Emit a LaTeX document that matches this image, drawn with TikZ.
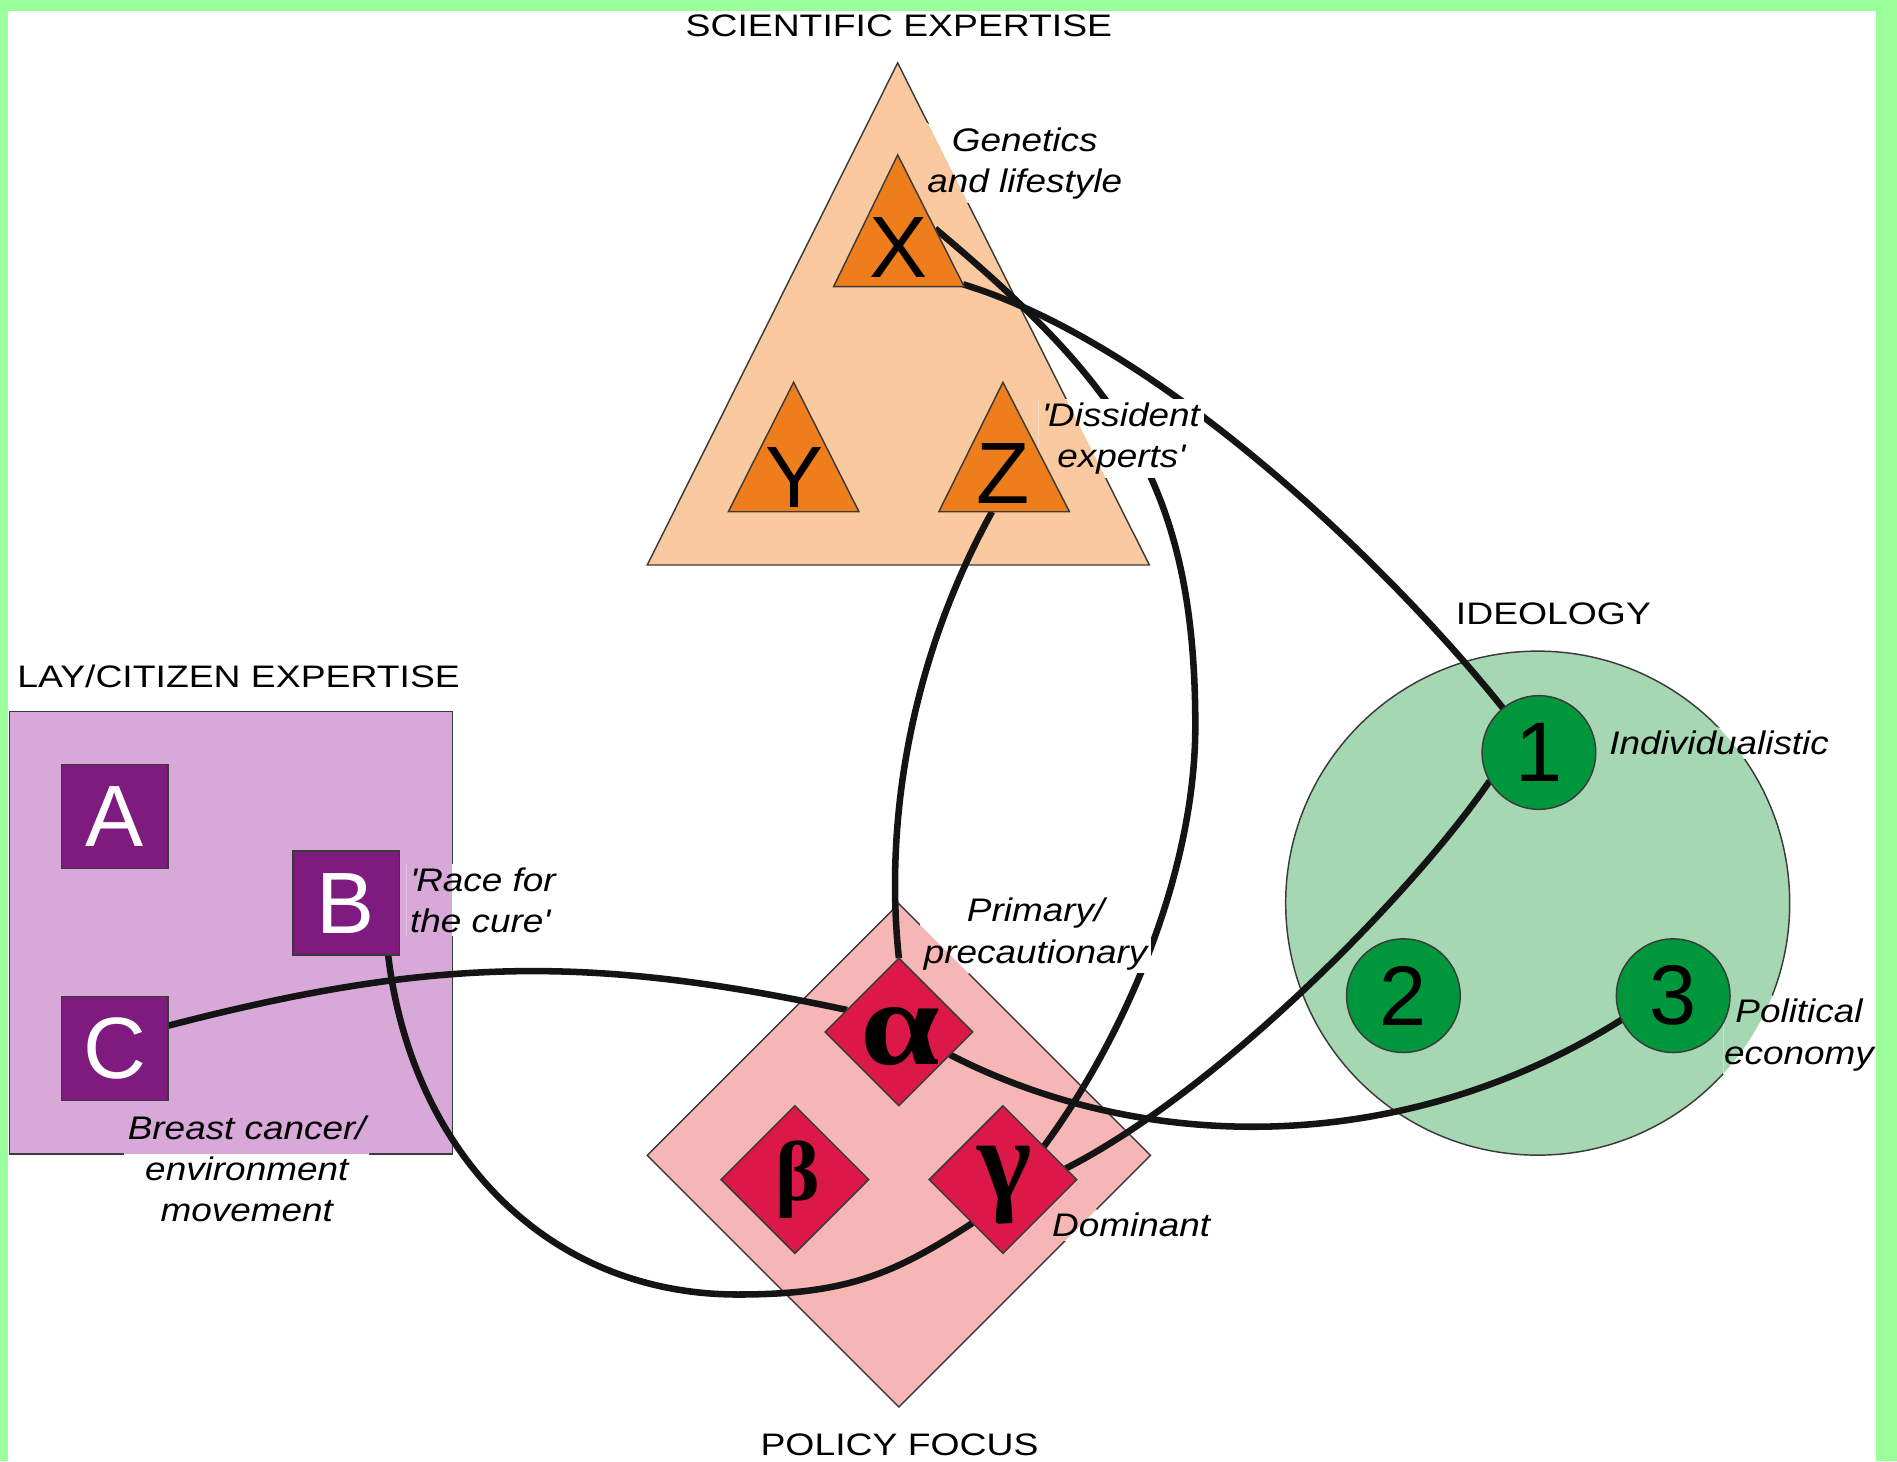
\documentclass[tikz,border=0pt]{standalone}
\usepackage{fontspec}
\setmainfont{Liberation Sans}
\newfontfamily\titlefont[FakeStretch=1.2]{Liberation Sans}
\newfontfamily\lblfont[FakeStretch=1.13]{Liberation Sans}
\newfontfamily\greekfont{Liberation Serif}
\newfontfamily\greekwide[FakeStretch=1.18]{Liberation Serif}
\usetikzlibrary{shapes.geometric}
\pgfdeclarelayer{bgl}\pgfdeclarelayer{curvel}\pgfdeclarelayer{labell}
\pgfsetlayers{bgl,curvel,labell,main}
\definecolor{frameg}{HTML}{99FF99}
\definecolor{peach}{HTML}{FAC9A0}
\definecolor{orng}{HTML}{EE7D1C}
\definecolor{lilac}{HTML}{D8A8D8}
\definecolor{plum}{HTML}{7F1A7F}
\definecolor{pinkd}{HTML}{F7B6B6}
\definecolor{crim}{HTML}{DC1848}
\definecolor{mint}{HTML}{A5D7B3}
\definecolor{dgreen}{HTML}{00963C}
\definecolor{edgec}{HTML}{3A3A3A}
\definecolor{curvec}{HTML}{141414}
\tikzset{
  thinedge/.style={draw=edgec, line width=0.6pt},
  bigbox/.style={rectangle, fill=lilac, thinedge, minimum width=183pt, minimum height=183pt, inner sep=0pt, outer sep=0pt},
  bigdia/.style={diamond, fill=pinkd, thinedge, minimum width=208pt, minimum height=208pt, inner sep=0pt, outer sep=0pt},
  bigcirc/.style={circle, fill=mint, thinedge, minimum size=208.3pt, inner sep=0pt, outer sep=0pt},
  sq/.style={rectangle, fill=plum, thinedge, minimum width=44pt, minimum height=43pt, inner sep=0pt, outer sep=0pt, text=white, font=\fontsize{36}{40}\selectfont},
  rd/.style={diamond, fill=crim, thinedge, minimum width=61pt, minimum height=61pt, inner sep=0pt, outer sep=0pt},
  gcirc/.style={circle, fill=dgreen, thinedge, minimum size=47pt, inner sep=0pt, outer sep=0pt, font=\fontsize{35}{40}\selectfont},
  tri/.style={fill=orng, thinedge},
  trilet/.style={inner sep=0pt, font=\fontsize{36}{40}\selectfont},
  greek/.style={inner sep=0pt},
  conn/.style={draw=curvec, line width=2.7pt},
  lbl/.style={fill=white, inner sep=1.5pt, align=center, font=\lblfont\itshape\fontsize{13.5}{17}\selectfont},
  ttl/.style={inner sep=0pt, font=\titlefont\fontsize{12.85}{15}\selectfont},
}
\begin{document}
\begin{tikzpicture}[x=0.5pt, y=-0.5pt]
\useasboundingbox (0,0) rectangle (1568,1208);
% ---------- background and big shapes
\begin{pgfonlayer}{bgl}
\fill[frameg] (0,0) rectangle (1568,1208);
\fill[white] (7,9) rectangle (1551,1208);
\coordinate (T1) at (742,52);
\coordinate (T2) at (950,467);
\coordinate (T3) at (535,467);
\filldraw[fill=peach, thinedge] (T1) -- (T2) -- (T3) -- cycle;
\node[bigbox] (LB) at (191,771) {};
\node[bigdia] (PD) at (743,955) {};
\node[bigcirc] (GC) at (1271,746.5) {};
\end{pgfonlayer}
% ---------- small shapes
\filldraw[tri] (742,128) -- (797,237) -- (689,237) -- cycle;
\filldraw[tri] (656,316) -- (710,423) -- (602,423) -- cycle;
\filldraw[tri] (829,316) -- (884,423) -- (776,423) -- cycle;
\coordinate (Xr) at (773,189);
\coordinate (Xc) at (796,235);
\coordinate (Zb) at (820,423);
\node[trilet] (X) at (742.7,205) {X};
\node[trilet] (Y) at (657,395) {Y};
\node[trilet] (Z) at (829,391.5) {Z};
\node[sq] (A) at (95,675) {A};
\node[sq] (B) at (286,746.5) {B};
\node[sq] (C) at (95,866.5) {C};
\node[rd] (alpha) at (743,853) {};
\node[rd] (beta) at (657,975) {};
\node[rd] (gamma) at (829,975) {};
\node[greek, font=\greekwide\bfseries\fontsize{50}{54}\selectfont] (alpha-t) at (744.5,857) {α};
\node[greek, font=\greekfont\bfseries\fontsize{35}{40}\selectfont] (beta-t) at (659.5,975) {β};
\node[greek, font=\greekfont\bfseries\fontsize{48}{50}\selectfont] (gamma-t) at (830.7,980) {γ};
\node[gcirc] (n1) at (1272,622) {1};
\node[gcirc] (n2) at (1160,823) {2};
\node[gcirc] (n3) at (1383,823) {3};
% ---------- connectors
\begin{pgfonlayer}{curvel}
\draw[conn] (Xc) .. controls (960,285) and (1150,470) .. (n1.129);
\draw[conn] (Xr) .. controls (925,317) and (988,400) .. (988,600) .. controls (988,720) and (931,855) .. (gamma.39);
\draw[conn] (Zb) .. controls (752,546) and (731,680) .. (alpha.north);
\draw[conn] (C.23) .. controls (361,790) and (490,790) .. (alpha.157);
\draw[conn] (alpha.-24) .. controls (947,955) and (1160,956) .. (n3.205);
\draw[conn] (n1.210) .. controls (1170,735) and (1010,900) .. (gamma.10);
\draw[conn] (B.-51) .. controls (340,950) and (450,1070) .. (610,1070) .. controls (700,1070) and (739,1053) .. (gamma.235);
\end{pgfonlayer}
% ---------- labels
\begin{pgfonlayer}{labell}
\node[lbl, path picture={\fill[peach] (T1) -- (T2) -- (T3) -- cycle;}] (lgen) at (847,135) {Genetics\\and lifestyle};
\node[lbl, path picture={\fill[peach] (T1) -- (T2) -- (T3) -- cycle;}] (ldis) at (926.5,362.4) {\textquotesingle Dissident\\experts\textquotesingle};
\node[lbl, path picture={\fill[pinkd] (PD.north) -- (PD.east) -- (PD.south) -- (PD.west) -- cycle;}] (lprim) at (856,772) {Primary/\\precautionary};
\node[lbl, path picture={\fill[pinkd] (PD.north) -- (PD.east) -- (PD.south) -- (PD.west) -- cycle;}] (ldom) at (935,1012.7) {Dominant};
\node[lbl, path picture={\fill[mint] (GC.center) circle[radius=104.15pt];}] (lind) at (1421,614.4) {Individualistic};
\node[lbl, inner xsep=0.3pt, path picture={\fill[mint] (GC.center) circle[radius=104.15pt];}] (lpol) at (1487,855.5) {Political\\economy};
\node[lbl, align=left, anchor=west, path picture={\fill[lilac] (LB.south west) rectangle (LB.north east);}] (lrace) at (335.5,744) {\textquotesingle Race for\\the cure\textquotesingle};
\node[lbl, path picture={\fill[lilac] (LB.south west) rectangle (LB.north east);}] (lbreast) at (204,966) {Breast cancer/\\environment\\movement};
\node[ttl] (tsci) at (743,21.4) {SCIENTIFIC EXPERTISE};
\node[ttl, anchor=west] (tlay) at (14,559) {LAY/CITIZEN EXPERTISE};
\node[ttl] (tide) at (1284,507.5) {IDEOLOGY};
\node[ttl] (tpol) at (743.5,1194) {POLICY FOCUS};
\end{pgfonlayer}
\end{tikzpicture}
\end{document}
